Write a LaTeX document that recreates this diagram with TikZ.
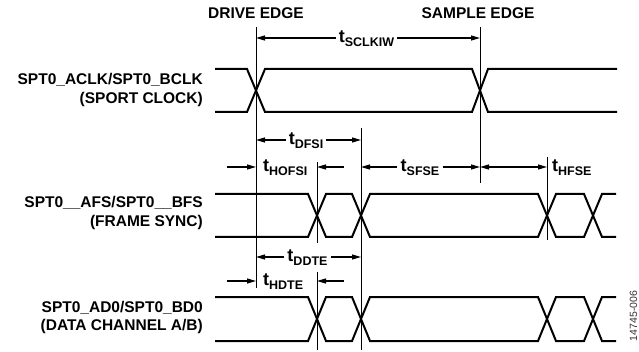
\documentclass[tikz,border=0pt]{standalone}
\usepackage{fontspec}
\setmainfont{Liberation Sans}
\usetikzlibrary{arrows.meta,positioning,calc}

\newcommand{\tsig}[1]{{\fontsize{18}{18}\selectfont t}\raisebox{-3.5pt}{\fontsize{12.5}{13}\selectfont #1}}

% one bus waveform: #1 high level, #2 low level
\newcommand{\busline}[2]{%
  \draw[sig] (215,#1) -- (308,#1) -- (326,#2) -- (352,#2) -- (370,#1)
     -- (538,#1) -- (556,#2) -- (584,#2) -- (602,#1) -- (616,#1);
  \draw[sig] (215,#2) -- (308,#2) -- (326,#1) -- (352,#1) -- (370,#2)
     -- (538,#2) -- (556,#1) -- (584,#1) -- (602,#2) -- (616,#2);
}

\begin{document}
\begin{tikzpicture}[x=1pt,y=-1pt,
                    font=\bfseries\fontsize{15.5}{18.5}\selectfont,
                    sig/.style={line width=2pt},
                    edgeline/.style={line width=0.9pt},
                    tim/.style={line width=1.2pt,-{Triangle[length=9pt,width=5pt]}},
                    both tim/.style={line width=1.2pt,{Triangle[length=9pt,width=5pt]}-{Triangle[length=9pt,width=5pt]}},
                    tlabel/.style={inner xsep=3pt,inner ysep=0pt,anchor=base},
                    signame/.style={align=right,anchor=east,inner sep=0pt}]

  \useasboundingbox (0,0) rectangle (639,352);

  % edges and reference lines
  \coordinate (drvT) at (256,27);   \coordinate (drvB) at (256,288);
  \coordinate (smpT) at (480,27);   \coordinate (smpB) at (480,183);
  \coordinate (hofT) at (317,162);  \coordinate (hofB) at (317,243);
  \coordinate (dfsT) at (361,128);  \coordinate (dfsB) at (361,350);
  \coordinate (hfsT) at (547,157);  \coordinate (hfsB) at (547,240);
  \coordinate (hdtT) at (317,272);  \coordinate (hdtB) at (317,350);

  \draw[edgeline] (drvT) -- (drvB);
  \draw[edgeline] (smpT) -- (smpB);
  \draw[edgeline] (hofT) -- (hofB);
  \draw[edgeline] (dfsT) -- (dfsB);
  \draw[edgeline] (hfsT) -- (hfsB);
  \draw[edgeline] (hdtT) -- (hdtB);

  \node (drive) at (256,13) {DRIVE EDGE};
  \node (sample) at (478,13) {SAMPLE EDGE};

  % signal names
  \node[signame] (clk) at (203,90) {SPT0\_ACLK/SPT0\_BCLK\\(SPORT CLOCK)};
  \node[signame] (fs) at (203,213) {SPT0\_\_AFS/SPT0\_\_BFS\\(FRAME SYNC)};
  \node[signame] (dat) at (203,317.5) {SPT0\_AD0/SPT0\_BD0\\(DATA CHANNEL A/B)};

  % waveforms
  \draw[sig] (215,69) -- (247,69) -- (265,112) -- (472,112) -- (488,69) -- (617,69);
  \draw[sig] (215,112) -- (247,112) -- (265,69) -- (472,69) -- (488,112) -- (617,112);
  \busline{194}{237}
  \busline{297}{341}

  % timing rows
  \coordinate (rowS) at (0,38);
  \coordinate (rowD) at (0,140);
  \coordinate (rowH) at (0,167);
  \coordinate (rowT) at (0,257);
  \coordinate (rowE) at (0,281);

  \node[tlabel] (sclkiw) at (366.5,43) {\tsig{SCLKIW}};
  \draw[tim] (sclkiw.west |- rowS) -- (drvT |- rowS);
  \draw[tim] (sclkiw.east |- rowS) -- (smpT |- rowS);

  \node[tlabel] (dfsi) at (306,145) {\tsig{DFSI}};
  \draw[tim] (dfsi.west |- rowD) -- (drvT |- rowD);
  \draw[tim] (dfsi.east |- rowD) -- (dfsT |- rowD);

  \coordinate (hofA) at (227,167);
  \coordinate (hofC) at (344,167);
  \node[tlabel,anchor=base west] (hofsi) at (260,172) {\tsig{HOFSI}};
  \draw[tim] (hofA) -- (drvT |- rowH);
  \draw[tim] (hofC) -- (hofT |- rowH);

  \node[tlabel] (sfse) at (420,172) {\tsig{SFSE}};
  \draw[tim] (sfse.west |- rowH) -- (dfsT |- rowH);
  \draw[tim] (sfse.east |- rowH) -- (smpT |- rowH);

  \draw[both tim] (smpT |- rowH) -- (hfsT |- rowH);
  \node[tlabel,anchor=base west] (hfse) at (549,172) {\tsig{HFSE}};

  \node[tlabel] (ddte) at (307.5,262) {\tsig{DDTE}};
  \draw[tim] (ddte.west |- rowT) -- (drvT |- rowT);
  \draw[tim] (ddte.east |- rowT) -- (dfsT |- rowT);

  \coordinate (hdtA) at (227,281);
  \coordinate (hdtC) at (344,281);
  \node[tlabel,anchor=base west] (hdte) at (260,286) {\tsig{HDTE}};
  \draw[tim] (hdtA) -- (drvT |- rowE);
  \draw[tim] (hdtC) -- (hdtT |- rowE);

  \node[rotate=90,inner sep=0pt,font=\fontsize{10.5}{12}\selectfont,text=black!80] (fig) at (633.5,316) {14745-006};

\end{tikzpicture}
\end{document}
